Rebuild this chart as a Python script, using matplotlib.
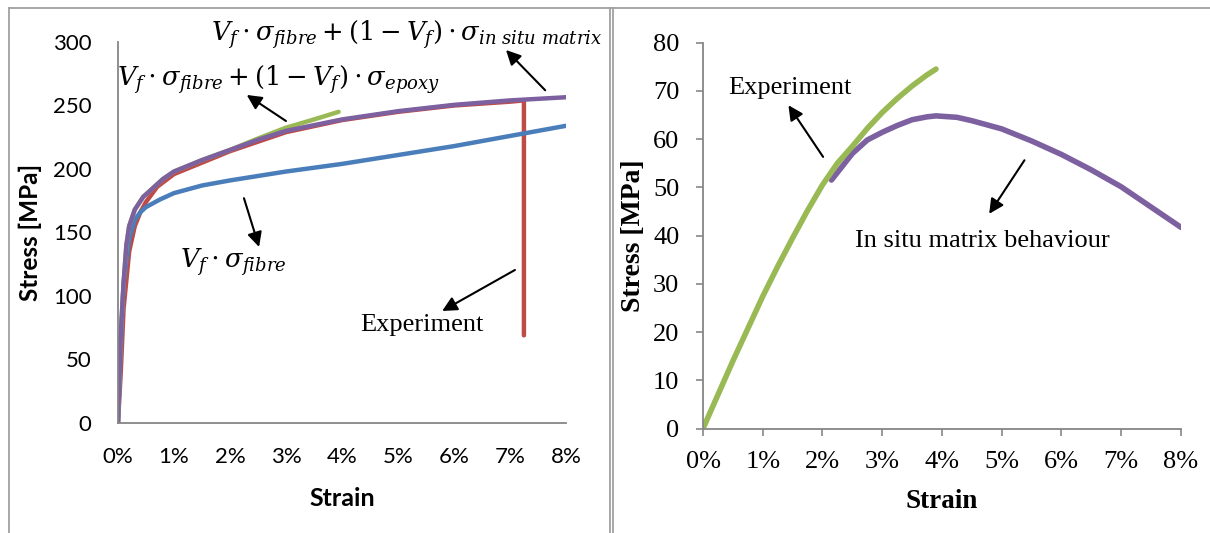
#!/usr/bin/env python3
"""Stress-strain curves: rule-of-mixtures predictions vs experiment (left),
and back-calculated in situ matrix behaviour (right)."""

import matplotlib
matplotlib.use("Agg")
import matplotlib.pyplot as plt
from matplotlib.lines import Line2D

# ---------------------------------------------------------------------------
# Data (strain in %, stress in MPa)
# ---------------------------------------------------------------------------

# left panel
fibre_strain = [0, 0.05, 0.1, 0.2, 0.3, 0.4, 0.5, 0.75, 1, 1.5, 2, 3, 4, 5, 6, 7, 8]
fibre_stress = [0, 60, 110, 145, 160, 166, 170, 176, 181, 187, 191, 198, 204, 211, 218, 226, 234]

insitu_strain = [0, 0.05, 0.1, 0.15, 0.2, 0.3, 0.45, 0.6, 0.8, 1, 1.5, 2, 2.5, 3, 4, 5, 6, 7, 8]
insitu_stress = [0, 70, 110, 140, 155, 168, 178, 184, 192, 198, 207, 215, 223, 230, 239, 245.5, 250.5, 254, 256.5]

epoxy_strain = [0, 0.05, 0.1, 0.15, 0.2, 0.3, 0.45, 0.6, 0.8, 1, 1.5, 2, 2.5, 3, 3.5, 3.94]
epoxy_stress = [0, 70, 110, 140, 155, 168, 178, 184, 192, 198, 207, 215, 224, 232.5, 239, 245]

exp_strain = [0, 0.05, 0.1, 0.2, 0.3, 0.4, 0.5, 0.7, 1, 2, 3, 4, 5, 6, 7, 7.25, 7.25]
exp_stress = [0, 40, 90, 135, 155, 166, 174, 186, 196, 214, 229, 238.5, 245, 250, 253, 254, 69]

# right panel
green_strain = [0, 0.25, 0.5, 0.75, 1, 1.25, 1.5, 1.75, 2, 2.25, 2.5, 2.75, 3, 3.25, 3.5, 3.75, 3.9]
green_stress = [0, 7, 14, 20.7, 27.4, 33.6, 39.5, 45.2, 50.5, 55, 58.5, 62.2, 65.5, 68.4, 71, 73.3, 74.5]

matrix_strain = [2.15, 2.5, 2.75, 3, 3.25, 3.5, 3.75, 3.9, 4.25, 4.5, 5, 5.5, 6, 6.5, 7, 7.5, 8]
matrix_stress = [51.5, 57, 59.8, 61.4, 62.8, 64.0, 64.6, 64.8, 64.5, 63.8, 62.1, 59.6, 56.8, 53.6, 50.1, 45.9, 41.7]

strain_ticks = [0, 1, 2, 3, 4, 5, 6, 7, 8]
left_yticks = [0, 50, 100, 150, 200, 250, 300]
right_yticks = [0, 10, 20, 30, 40, 50, 60, 70, 80]

BLUE = "#4A7EBB"
RED = "#BE4B48"
GREEN = "#98B954"
PURPLE = "#7D60A0"
GREY = "#868686"

plt.rcParams["mathtext.fontset"] = "dejavuserif"

fig = plt.figure(figsize=(12.1, 5.33), dpi=100)

# ---------------------------------------------------------------------------
# Left panel
# ---------------------------------------------------------------------------
ax1 = fig.add_axes([0.0975, 0.2064, 0.3702, 0.7148])
ax1.plot(exp_strain, exp_stress, color=RED, lw=3.2, solid_capstyle="round")
ax1.plot(fibre_strain, fibre_stress, color=BLUE, lw=3.2, solid_capstyle="round")
ax1.plot(epoxy_strain, epoxy_stress, color=GREEN, lw=3.2, solid_capstyle="round")
ax1.plot(insitu_strain, insitu_stress, color=PURPLE, lw=3.2, solid_capstyle="round")

ax1.set_xlim(0, 8)
ax1.set_ylim(0, 300)
ax1.set_xticks(strain_ticks)
ax1.set_xticklabels([f"{v}%" for v in strain_ticks])
ax1.set_yticks(left_yticks)
for s in ("top", "right"):
    ax1.spines[s].set_visible(False)
for s in ("left", "bottom"):
    ax1.spines[s].set_color(GREY)
    ax1.spines[s].set_linewidth(1.3)
ax1.tick_params(length=0, labelsize=16, pad=17)
ax1.tick_params(axis="y", pad=19)
for lab in ax1.get_xticklabels() + ax1.get_yticklabels():
    lab.set_family("Lato")
ax1.set_xlabel("Strain", family="Lato", fontweight="bold", fontsize=18, labelpad=15)
ax1.set_ylabel("Stress [MPa]", family="Lato", fontweight="bold", fontsize=17.5, labelpad=8)

arrow = dict(arrowstyle="-|>", color="black", lw=1.5, mutation_scale=22, shrinkA=0, shrinkB=0)
math_kw = dict(fontsize=18.5, ha="center", va="center", annotation_clip=False)

ax1.annotate("", xy=(6.93, 293.7), xytext=(7.63, 262), arrowprops=arrow, annotation_clip=False)
ax1.annotate(r"$V_f \cdot \sigma_{fibre} + \left(1 - V_f\right) \cdot \sigma_{in\ situ\ matrix}$",
             xy=(5.16, 305.5), **math_kw)
ax1.annotate("", xy=(2.30, 258.3), xytext=(3.0, 237.8), arrowprops=arrow)
ax1.annotate(r"$V_f \cdot \sigma_{fibre} + \left(1 - V_f\right) \cdot \sigma_{epoxy}$",
             xy=(2.875, 270), **math_kw)
ax1.annotate("", xy=(2.52, 138.6), xytext=(2.25, 177), arrowprops=arrow)
ax1.annotate(r"$V_f \cdot \sigma_{fibre}$", xy=(2.06, 126.8), **math_kw)
ax1.annotate("", xy=(5.79, 88.2), xytext=(7.09, 120.5), arrowprops=arrow)
ax1.text(5.43, 77.2, "Experiment", family="Liberation Serif", fontsize=19, ha="center", va="center")

# ---------------------------------------------------------------------------
# Right panel
# ---------------------------------------------------------------------------
ax2 = fig.add_axes([0.581, 0.196, 0.395, 0.7242])
ax2.plot(matrix_strain, matrix_stress, color=PURPLE, lw=4, solid_capstyle="round")
ax2.plot(green_strain, green_stress, color=GREEN, lw=4, solid_capstyle="round")

ax2.set_xlim(0, 8)
ax2.set_ylim(0, 80)
ax2.set_xticks(strain_ticks)
ax2.set_xticklabels([f"{v}%" for v in strain_ticks])
ax2.set_yticks(right_yticks)
for s in ("top", "right"):
    ax2.spines[s].set_visible(False)
for s in ("left", "bottom"):
    ax2.spines[s].set_color(GREY)
    ax2.spines[s].set_linewidth(1.3)
ax2.tick_params(direction="out", length=5, width=1.2, color=GREY, labelsize=19, pad=11)
ax2.tick_params(axis="y", pad=12)
for lab in ax2.get_xticklabels() + ax2.get_yticklabels():
    lab.set_family("Liberation Serif")
ax2.set_xlabel("Strain", family="Liberation Serif", fontweight="bold", fontsize=19.5, labelpad=12)
ax2.set_ylabel("Stress [MPa]", family="Liberation Serif", fontweight="bold", fontsize=20, labelpad=5)

ax2.annotate("", xy=(1.43, 67.0), xytext=(2.01, 56.3), arrowprops=arrow)
ax2.text(1.45, 70.6, "Experiment", family="Liberation Serif", fontsize=19, ha="center", va="center")
ax2.annotate("", xy=(4.79, 44.5), xytext=(5.38, 55.6), arrowprops=arrow)
ax2.text(4.67, 38.9, "In situ matrix behaviour", family="Liberation Serif", fontsize=19,
         ha="center", va="center")

# ---------------------------------------------------------------------------
# Panel frames (as in the source document)
# ---------------------------------------------------------------------------
W, H = 1210, 533
frame = dict(color="#A0A0A0", lw=1.3)
fig.add_artist(Line2D([9 / W, 9 / W], [0, 1 - 8 / H], **frame))
fig.add_artist(Line2D([9 / W, 1], [1 - 8 / H, 1 - 8 / H], **frame))
fig.add_artist(Line2D([609.5 / W, 609.5 / W], [0, 1 - 8 / H], **frame))
fig.add_artist(Line2D([613 / W, 613 / W], [0, 1 - 8 / H], **frame))

fig.savefig("out.png", dpi=100)
